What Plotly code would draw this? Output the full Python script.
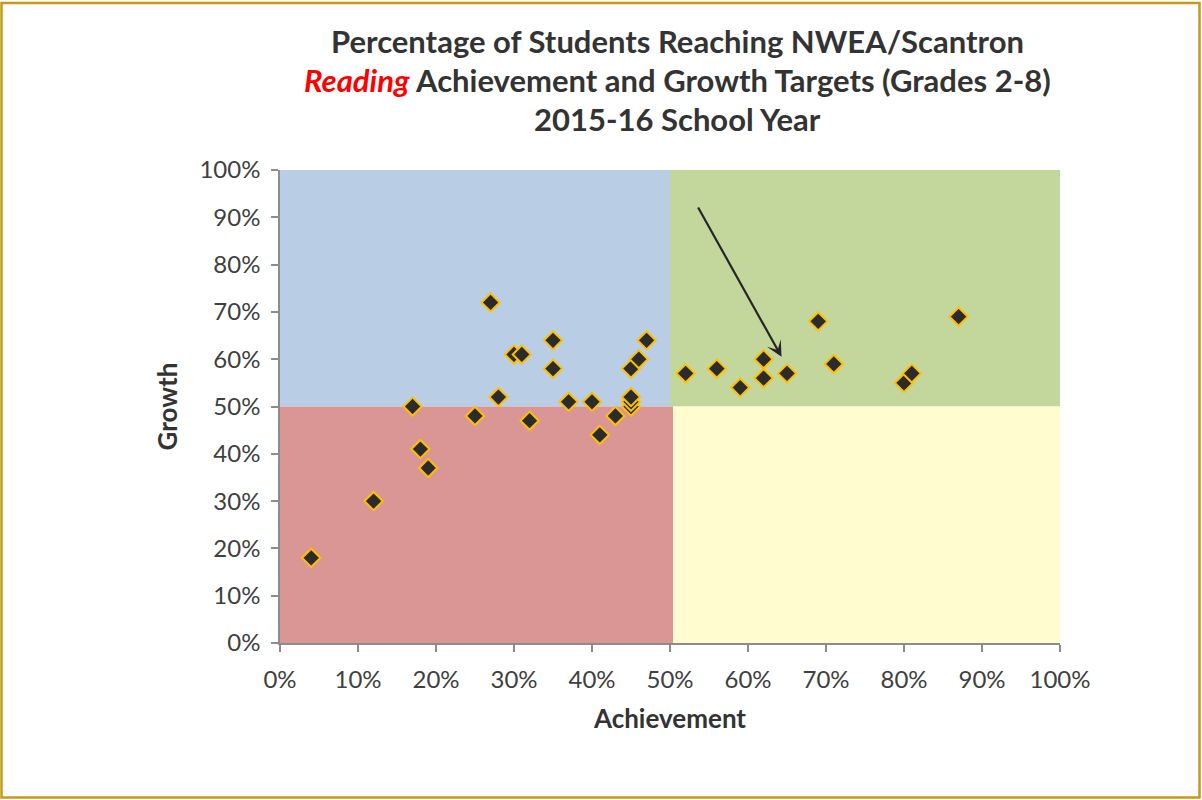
import plotly.graph_objects as go

# Data (percent values)
achievement = [4, 12, 17, 18, 19, 25, 27, 28, 30, 31, 32, 35, 35, 37, 40, 41, 43,
               45, 45, 45, 45, 46, 47, 52, 56, 59, 62, 62, 65, 69, 71, 80, 81, 87]
growth = [18, 30, 50, 41, 37, 48, 72, 52, 61, 61, 47, 64, 58, 51, 51, 44, 48,
          50, 51, 52, 58, 60, 64, 57, 58, 54, 60, 56, 57, 68, 59, 55, 57, 69]

tick_vals = [0, 10, 20, 30, 40, 50, 60, 70, 80, 90, 100]
tick_text = [f"{v}%" for v in tick_vals]

target_x = 50
target_y = 50
arrow_tail = (53.5, 92.4)
arrow_head = (64.3, 60.5)

FONT = "Lato, 'Open Sans', sans-serif"
TXT = "#333333"

fig = go.Figure()

fig.add_trace(go.Scatter(
    x=achievement, y=growth, mode="markers",
    marker=dict(symbol="diamond", size=14, color="#2b2b2b",
                line=dict(color="#FFC000", width=2)),
    showlegend=False, hoverinfo="x+y",
))

# Quadrant backgrounds
quads = [
    (0, target_x, target_y, 100, "#B9CDE5"),
    (target_x, 100, target_y, 100, "#C3D69B"),
    (0, target_x + 0.4, 0, target_y, "#D99694"),
    (target_x + 0.4, 100, 0, target_y, "#FFFDD0"),
]
shapes = []
for x0, x1, y0, y1, c in quads:
    shapes.append(dict(type="rect", xref="x", yref="y", x0=x0, x1=x1, y0=y0, y1=y1,
                       fillcolor=c, line=dict(width=0), layer="below"))

W, H = 1202, 800
L, R, T, B = 280, 142, 170, 157
pw, ph = W - L - R, H - T - B


def px_x(p):
    return (p - L) / pw


def px_y(p):
    return (H - B - p) / ph


# Outer gold border
shapes.append(dict(type="rect", xref="paper", yref="paper",
                   x0=px_x(1.5), x1=px_x(1199.5), y0=px_y(797.5), y1=px_y(3),
                   line=dict(color="#C49A1A", width=2.5), fillcolor="rgba(0,0,0,0)", layer="above"))

title_font = dict(size=31, color=TXT, family=FONT)
cx = px_x(677)
annotations = [
    dict(text="<b>Percentage of Students Reaching NWEA/Scantron</b>", xref="paper", yref="paper",
         x=cx, y=px_y(41), showarrow=False, font=title_font, xanchor="center", yanchor="middle"),
    dict(text="<b><i><span style='color:#FF0000'>Reading</span></i> Achievement and Growth Targets (Grades 2-8)</b>",
         xref="paper", yref="paper", x=cx, y=px_y(80), showarrow=False,
         font=title_font, xanchor="center", yanchor="middle"),
    dict(text="<b>2015-16 School Year</b>", xref="paper", yref="paper",
         x=cx, y=px_y(119), showarrow=False, font=title_font, xanchor="center", yanchor="middle"),
    dict(x=arrow_head[0], y=arrow_head[1], ax=arrow_tail[0], ay=arrow_tail[1],
         xref="x", yref="y", axref="x", ayref="y", text="", showarrow=True,
         arrowhead=3, arrowsize=1.2, arrowwidth=2.2, arrowcolor="#262626"),
]

axis_common = dict(
    range=[0, 100], tickvals=tick_vals, ticktext=tick_text,
    showgrid=False, zeroline=False, showline=True, linecolor="#8c8c8c", linewidth=1.5,
    ticks="outside", ticklen=7, tickcolor="#8c8c8c", tickwidth=1.5,
    tickfont=dict(size=24, color="#404040", family=FONT),
)

fig.update_layout(
    width=W, height=H,
    margin=dict(l=L, r=R, t=T, b=B),
    paper_bgcolor="white", plot_bgcolor="white",
    xaxis=dict(**axis_common, ticklabelstandoff=7,
               title=dict(text="<b>Achievement</b>", standoff=18,
                          font=dict(size=26, color=TXT, family=FONT))),
    yaxis=dict(**axis_common, ticklabelstandoff=6,
               title=dict(text="<b>Growth</b>", standoff=14,
                          font=dict(size=26, color=TXT, family=FONT))),
    shapes=shapes, annotations=annotations,
)

fig.write_html("out.html", config={"displayModeBar": False},
               post_script="document.body.style.margin='0';")
